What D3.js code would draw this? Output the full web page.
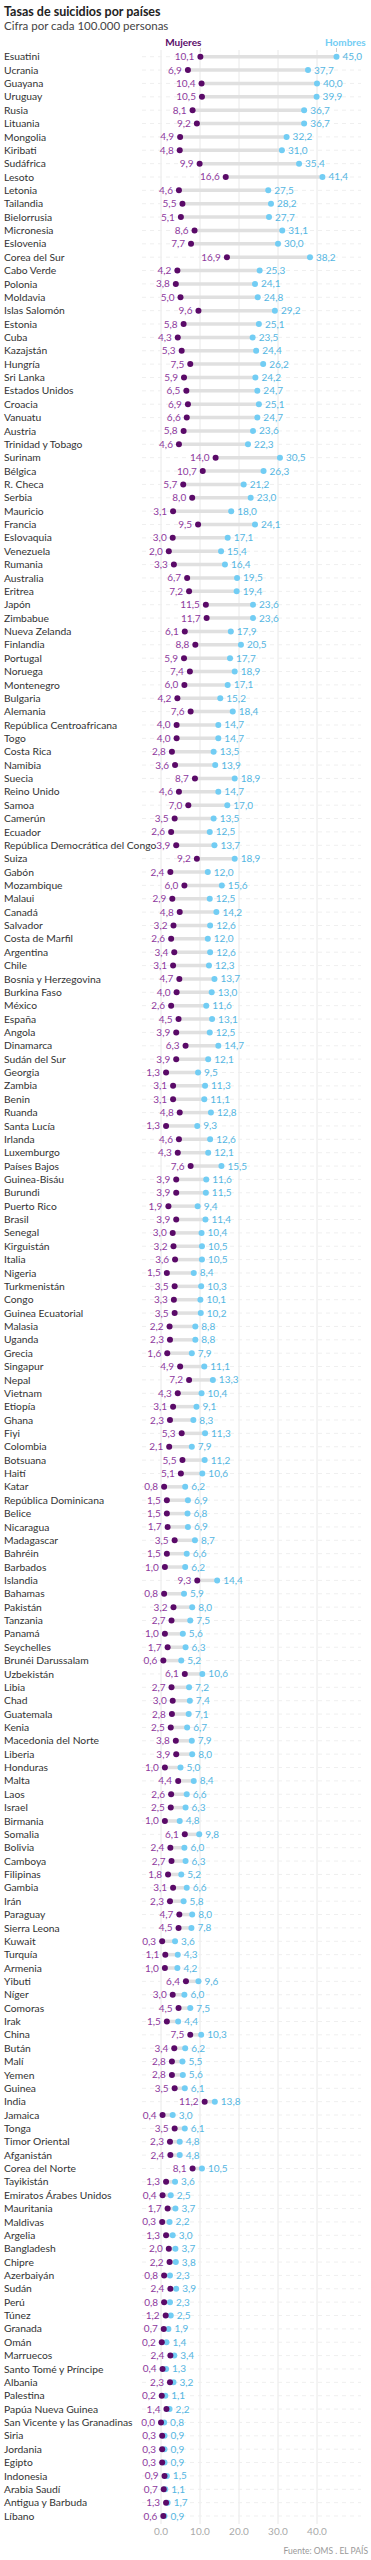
<!DOCTYPE html>
<html>
<head>
<meta charset="utf-8">
<script src="https://cdn.jsdelivr.net/npm/d3@7"></script>
<style>
  body { margin: 0; background: #fff; }
  svg text { font-family: Lato, "Open Sans", sans-serif; }
</style>
</head>
<body>
<svg id="chart" width="371" height="2560"></svg>
<script>
// datos: tasa de suicidios por cada 100.000 personas (OMS)
var paises = ["Esuatini","Ucrania","Guayana","Uruguay","Rusia","Lituania","Mongolia","Kiribati","Sudáfrica","Lesoto",
  "Letonia","Tailandia","Bielorrusia","Micronesia","Eslovenia","Corea del Sur","Cabo Verde","Polonia","Moldavia","Islas Salomón",
  "Estonia","Cuba","Kazajstán","Hungría","Sri Lanka","Estados Unidos","Croacia","Vanuatu","Austria","Trinidad y Tobago",
  "Surinam","Bélgica","R. Checa","Serbia","Mauricio","Francia","Eslovaquia","Venezuela","Rumania","Australia",
  "Eritrea","Japón","Zimbabue","Nueva Zelanda","Finlandia","Portugal","Noruega","Montenegro","Bulgaria","Alemania",
  "República Centroafricana","Togo","Costa Rica","Namibia","Suecia","Reino Unido","Samoa","Camerún","Ecuador","República Democrática del Congo",
  "Suiza","Gabón","Mozambique","Malaui","Canadá","Salvador","Costa de Marfil","Argentina","Chile","Bosnia y Herzegovina",
  "Burkina Faso","México","España","Angola","Dinamarca","Sudán del Sur","Georgia","Zambia","Benin","Ruanda",
  "Santa Lucía","Irlanda","Luxemburgo","Países Bajos","Guinea-Bisáu","Burundi","Puerto Rico","Brasil","Senegal","Kirguistán",
  "Italia","Nigeria","Turkmenistán","Congo","Guinea Ecuatorial","Malasia","Uganda","Grecia","Singapur","Nepal",
  "Vietnam","Etiopía","Ghana","Fiyi","Colombia","Botsuana","Haití","Katar","República Dominicana","Belice",
  "Nicaragua","Madagascar","Bahréin","Barbados","Islandia","Bahamas","Pakistán","Tanzania","Panamá","Seychelles",
  "Brunéi Darussalam","Uzbekistán","Libia","Chad","Guatemala","Kenia","Macedonia del Norte","Liberia","Honduras","Malta",
  "Laos","Israel","Birmania","Somalia","Bolivia","Camboya","Filipinas","Gambia","Irán","Paraguay",
  "Sierra Leona","Kuwait","Turquía","Armenia","Yibuti","Níger","Comoras","Irak","China","Bután",
  "Malí","Yemen","Guinea","India","Jamaica","Tonga","Timor Oriental","Afganistán","Corea del Norte","Tayikistán",
  "Emiratos Árabes Unidos","Mauritania","Maldivas","Argelia","Bangladesh","Chipre","Azerbaiyán","Sudán","Perú","Túnez",
  "Granada","Omán","Marruecos","Santo Tomé y Príncipe","Albania","Palestina","Papúa Nueva Guinea","San Vicente y las Granadinas","Siria","Jordania",
  "Egipto","Indonesia","Arabia Saudí","Antigua y Barbuda","Líbano"];

var mujeres = [10.1,6.9,10.4,10.5,8.1,9.2,4.9,4.8,9.9,16.6,
  4.6,5.5,5.1,8.6,7.7,16.9,4.2,3.8,5.0,9.6,
  5.8,4.3,5.3,7.5,5.9,6.5,6.9,6.6,5.8,4.6,
  14.0,10.7,5.7,8.0,3.1,9.5,3.0,2.0,3.3,6.7,
  7.2,11.5,11.7,6.1,8.8,5.9,7.4,6.0,4.2,7.6,
  4.0,4.0,2.8,3.6,8.7,4.6,7.0,3.5,2.6,3.9,
  9.2,2.4,6.0,2.9,4.8,3.2,2.6,3.4,3.1,4.7,
  4.0,2.6,4.5,3.9,6.3,3.9,1.3,3.1,3.1,4.8,
  1.3,4.6,4.3,7.6,3.9,3.9,1.9,3.9,3.0,3.2,
  3.6,1.5,3.5,3.3,3.5,2.2,2.3,1.6,4.9,7.2,
  4.3,3.1,2.3,5.3,2.1,5.5,5.1,0.8,1.5,1.5,
  1.7,3.5,1.5,1.0,9.3,0.8,3.2,2.7,1.0,1.7,
  0.6,6.1,2.7,3.0,2.8,2.5,3.8,3.9,1.0,4.4,
  2.6,2.5,1.0,6.1,2.4,2.7,1.8,3.1,2.3,4.7,
  4.5,0.3,1.1,1.0,6.4,3.0,4.5,1.5,7.5,3.4,
  2.8,2.8,3.5,11.2,0.4,3.5,2.3,2.4,8.1,1.3,
  0.4,1.7,0.3,1.3,2.0,2.2,0.8,2.4,0.8,1.2,
  0.7,0.2,2.4,0.4,2.3,0.2,1.4,0.0,0.3,0.3,
  0.3,0.9,0.7,1.3,0.6];

var hombres = [45.0,37.7,40.0,39.9,36.7,36.7,32.2,31.0,35.4,41.4,
  27.5,28.2,27.7,31.1,30.0,38.2,25.3,24.1,24.8,29.2,
  25.1,23.5,24.4,26.2,24.2,24.7,25.1,24.7,23.6,22.3,
  30.5,26.3,21.2,23.0,18.0,24.1,17.1,15.4,16.4,19.5,
  19.4,23.6,23.6,17.9,20.5,17.7,18.9,17.1,15.2,18.4,
  14.7,14.7,13.5,13.9,18.9,14.7,17.0,13.5,12.5,13.7,
  18.9,12.0,15.6,12.5,14.2,12.6,12.0,12.6,12.3,13.7,
  13.0,11.6,13.1,12.5,14.7,12.1,9.5,11.3,11.1,12.8,
  9.3,12.6,12.1,15.5,11.6,11.5,9.4,11.4,10.4,10.5,
  10.5,8.4,10.3,10.1,10.2,8.8,8.8,7.9,11.1,13.3,
  10.4,9.1,8.3,11.3,7.9,11.2,10.6,6.2,6.9,6.8,
  6.9,8.7,6.6,6.2,14.4,5.9,8.0,7.5,5.6,6.3,
  5.2,10.6,7.2,7.4,7.1,6.7,7.9,8.0,5.0,8.4,
  6.6,6.3,4.8,9.8,6.0,6.3,5.2,6.6,5.8,8.0,
  7.8,3.6,4.3,4.2,9.6,6.0,7.5,4.4,10.3,6.2,
  5.5,5.6,6.1,13.8,3.0,6.1,4.8,4.8,10.5,3.6,
  2.5,3.7,2.2,3.0,3.7,3.8,2.3,3.9,2.3,2.5,
  1.9,1.4,3.4,1.3,3.2,1.1,2.2,0.8,0.9,0.9,
  0.9,1.5,1.1,1.7,0.9];

var ticks = [0, 10, 20, 30, 40];

var colMuj = "#5a0a68", colMujTxt = "#8e3a9e";
var colHom = "#72cdf4", colHomTxt = "#55b6e2";

var data = paises.map(function(p, i) {
  return {pais: p, m: mujeres[i], h: hombres[i]};
});

var svg = d3.select("#chart");

var x = d3.scaleLinear().domain([0, 40]).range([161, 317]);
var y = d3.scalePoint().domain(paises).range([56.7, 2516]);

var fmt = function(v) { return d3.format(".1f")(v).replace(".", ","); };

// titulo
svg.append("text").attr("x", 4).attr("y", 16)
  .style("font-size", "12.5px").style("font-weight", "bold").style("fill", "#222")
  .text("Tasas de suicidios por países");
svg.append("text").attr("x", 4).attr("y", 30)
  .style("font-size", "11.5px").style("fill", "#444")
  .text("Cifra por cada 100.000 personas");

// rejilla vertical
svg.append("g").selectAll("line").data(ticks).enter().append("line")
  .attr("x1", function(d) { return x(d); }).attr("x2", function(d) { return x(d); })
  .attr("y1", 50).attr("y2", 2524)
  .style("stroke", "#e8e8e8").style("stroke-width", 1);

// lineas horizontales por fila
svg.append("g").selectAll("line").data(data).enter().append("line")
  .attr("x1", 142).attr("x2", 361)
  .attr("y1", function(d) { return y(d.pais); }).attr("y2", function(d) { return y(d.pais); })
  .style("stroke", "#efefef").style("stroke-dasharray", "4,4").style("stroke-width", 1);

// leyenda
svg.append("text").attr("x", x(mujeres[0]) + 1).attr("y", 45.5).attr("text-anchor", "end")
  .style("font-size", "10px").style("font-weight", "bold").style("fill", colMuj)
  .text("Mujeres");
svg.append("text").attr("x", 325).attr("y", 45.5)
  .style("font-size", "10px").style("font-weight", "bold").style("fill", colHom)
  .text("Hombres");
svg.append("line").attr("x1", x(mujeres[0])).attr("x2", x(mujeres[0])).attr("y1", 48).attr("y2", 52)
  .style("stroke", "#ccc");
svg.append("line").attr("x1", x(hombres[0])).attr("x2", x(hombres[0])).attr("y1", 48).attr("y2", 52)
  .style("stroke", "#ccc");

var filas = svg.append("g").selectAll("g").data(data).enter().append("g")
  .attr("transform", function(d) { return "translate(0," + y(d.pais) + ")"; });

filas.append("text").attr("x", 4).attr("dy", "0.35em")
  .style("font-size", "10.3px").style("fill", "#333")
  .text(function(d) { return d.pais; });

filas.append("line")
  .attr("x1", function(d) { return x(d.m); }).attr("x2", function(d) { return x(d.h); })
  .style("stroke", "#e0e0e0").style("stroke-width", 3.5);

filas.append("circle").attr("cx", function(d) { return x(d.h); }).attr("r", 3)
  .style("fill", colHom);
filas.append("circle").attr("cx", function(d) { return x(d.m); }).attr("r", 3)
  .style("fill", colMuj);

filas.append("text").attr("x", function(d) { return x(d.m) - 6; }).attr("dy", "0.35em")
  .attr("text-anchor", "end")
  .style("font-size", "10px").style("fill", colMujTxt)
  .text(function(d) { return fmt(d.m); });
filas.append("text").attr("x", function(d) { return x(d.h) + 6; }).attr("dy", "0.35em")
  .style("font-size", "10px").style("fill", colHomTxt)
  .text(function(d) { return fmt(d.h); });

// eje
svg.append("g").selectAll("text").data(ticks).enter().append("text")
  .attr("x", function(d) { return x(d); }).attr("y", 2535).attr("text-anchor", "middle")
  .style("font-size", "10px").style("fill", "#aaa")
  .text(function(d) { return d3.format(".1f")(d); });

svg.append("text").attr("x", 368).attr("y", 2554).attr("text-anchor", "end")
  .style("font-size", "8.5px").style("fill", "#999")
  .text("Fuente: OMS . EL PAÍS");
</script>
</body>
</html>
